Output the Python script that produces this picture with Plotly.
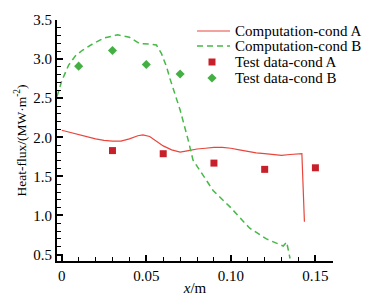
import plotly.graph_objects as go

# Computation-cond A (red solid)
comp_a_x = [0, 0.005, 0.01, 0.015, 0.02, 0.025, 0.03, 0.035, 0.04, 0.045, 0.048, 0.052, 0.056, 0.06,
            0.065, 0.07, 0.075, 0.08, 0.085, 0.09, 0.095, 0.10, 0.105, 0.11, 0.115, 0.12, 0.125,
            0.13, 0.135, 0.14, 0.142, 0.1435]
comp_a_y = [2.09, 2.06, 2.03, 2.0, 1.98, 1.96, 1.95, 1.95, 1.98, 2.02, 2.03, 2.01, 1.95, 1.89,
            1.84, 1.81, 1.83, 1.85, 1.86, 1.87, 1.87, 1.86, 1.84, 1.82, 1.80, 1.79, 1.78,
            1.77, 1.78, 1.79, 1.79, 0.92]

# Computation-cond B (green dashed)
comp_b_x = [-0.0028, 0, 0.004, 0.008, 0.012, 0.018, 0.025, 0.033, 0.04, 0.046, 0.053, 0.056, 0.059,
            0.062, 0.064, 0.067, 0.07, 0.0747, 0.0776, 0.0895, 0.0995, 0.111, 0.121, 0.131, 0.133, 0.135]
comp_b_y = [2.52, 2.72, 2.92, 3.04, 3.11, 3.19, 3.27, 3.31, 3.28, 3.20, 3.19, 3.18, 3.07,
            2.9, 2.75, 2.56, 2.35, 1.97, 1.71, 1.32, 1.11, 0.84, 0.70, 0.61, 0.66, 0.45]

# Test data
test_a_x = [0.03, 0.06, 0.09, 0.12, 0.15]
test_a_y = [1.83, 1.79, 1.67, 1.59, 1.61]
test_b_x = [0.01, 0.03, 0.05, 0.07]
test_b_y = [2.91, 3.11, 2.93, 2.81]

series_names = ["Computation-cond A", "Computation-cond B", "Test data-cond A", "Test data-cond B"]

x_tick_vals = [0, 0.05, 0.10, 0.15]
x_tick_text = ["0", "0.05", "0.10", "0.15"]
y_tick_vals = [0.5, 1.0, 1.5, 2.0, 2.5, 3.0, 3.5]
y_tick_text = ["0.5", "1.0", "1.5", "2.0", "2.5", "3.0", "3.5"]

FONT = "Liberation Serif, Times New Roman, serif"
RED_LINE = "#e8463c"
RED_MARK = "#c8202a"
GREEN_LINE = "#46b946"
GREEN_MARK = "#44b044"

fig = go.Figure()
fig.add_trace(go.Scatter(x=comp_a_x, y=comp_a_y, mode="lines", name=series_names[0],
                         line=dict(color=RED_LINE, width=1.2), showlegend=False))
fig.add_trace(go.Scatter(x=comp_b_x, y=comp_b_y, mode="lines", name=series_names[1],
                         line=dict(color=GREEN_LINE, width=1.5, dash="6px,4px"), showlegend=False))
fig.add_trace(go.Scatter(x=test_a_x, y=test_a_y, mode="markers", name=series_names[2],
                         marker=dict(symbol="square", size=7, color=RED_MARK), showlegend=False))
fig.add_trace(go.Scatter(x=test_b_x, y=test_b_y, mode="markers", name=series_names[3],
                         marker=dict(symbol="diamond", size=7, color=GREEN_MARK), showlegend=False))

axis_common = dict(showline=True, linecolor="black", linewidth=2, ticks="inside",
                   ticklen=6, tickwidth=1.5, tickcolor="black", showgrid=False, zeroline=False,
                   tickfont=dict(family=FONT, size=15, color="black"), mirror=False,
                   automargin=False)

fig.update_xaxes(range=[-0.0028, 0.1604], tickvals=x_tick_vals, ticktext=x_tick_text,
                 minor=dict(dtick=0.01, tick0=0, ticks="inside", ticklen=4, tickwidth=1, tickcolor="black"),
                 title=dict(text="<i>x</i>/m", font=dict(family=FONT, size=15, color="black"), standoff=2),
                 **axis_common)
fig.update_yaxes(range=[0.418, 3.5], tickvals=y_tick_vals, ticktext=y_tick_text,
                 minor=dict(dtick=0.1, tick0=0, ticks="inside", ticklen=4, tickwidth=1, tickcolor="black"),
                 title=dict(text="Heat-flux/(MW·m<sup>-2</sup>)", font=dict(family=FONT, size=13.5, color="black"), standoff=4),
                 **axis_common)

# The page body has an 8px default margin, so the figure is shrunk by that offset.
PAGE_OFF = 8
FIG_W, FIG_H = 377 - PAGE_OFF, 296 - PAGE_OFF
PLOT_L, PLOT_T, PLOT_W, PLOT_H = 57 - PAGE_OFF, 20 - PAGE_OFF, 276, 241

def px(xp):
    return (xp - PAGE_OFF - PLOT_L) / PLOT_W
def py(yp):
    return (PLOT_T + PLOT_H - (yp - PAGE_OFF)) / PLOT_H

# Manual legend (compact row spacing like the reference), positions in screen pixels
row_y = [31, 46, 62, 78]
line_x0, line_x1, mark_x, text_x = 197, 230, 212, 233
shapes = []
annotations = []
shapes.append(dict(type="line", xref="paper", yref="paper", x0=px(line_x0), x1=px(line_x1),
                   y0=py(row_y[0]), y1=py(row_y[0]), line=dict(color=RED_LINE, width=1.2)))
shapes.append(dict(type="line", xref="paper", yref="paper", x0=px(line_x0), x1=px(line_x1),
                   y0=py(row_y[1]), y1=py(row_y[1]), line=dict(color=GREEN_LINE, width=1.5, dash="6px,4px")))
s = 3.5
shapes.append(dict(type="rect", xref="paper", yref="paper", x0=px(mark_x - s), x1=px(mark_x + s),
                   y0=py(row_y[2] + s), y1=py(row_y[2] - s), fillcolor=RED_MARK, line=dict(width=0)))
d = 4.6
cx, cy = px(mark_x), py(row_y[3])
dx, dy = d / PLOT_W, d / PLOT_H
shapes.append(dict(type="path", xref="paper", yref="paper",
                   path=f"M {cx-dx} {cy} L {cx} {cy+dy} L {cx+dx} {cy} L {cx} {cy-dy} Z",
                   fillcolor=GREEN_MARK, line=dict(width=0)))
for name, ry in zip(series_names, row_y):
    annotations.append(dict(text=name, xref="paper", yref="paper", x=px(text_x), y=py(ry),
                            xanchor="left", yanchor="middle", showarrow=False,
                            font=dict(family=FONT, size=15, color="black")))

fig.update_layout(
    width=FIG_W, height=FIG_H,
    margin=dict(l=PLOT_L, r=FIG_W - PLOT_L - PLOT_W, t=PLOT_T, b=FIG_H - PLOT_T - PLOT_H),
    plot_bgcolor="white", paper_bgcolor="white",
    font=dict(family=FONT, size=15, color="black"),
    showlegend=False,
    shapes=shapes, annotations=annotations,
)

fig.write_html("out.html")
